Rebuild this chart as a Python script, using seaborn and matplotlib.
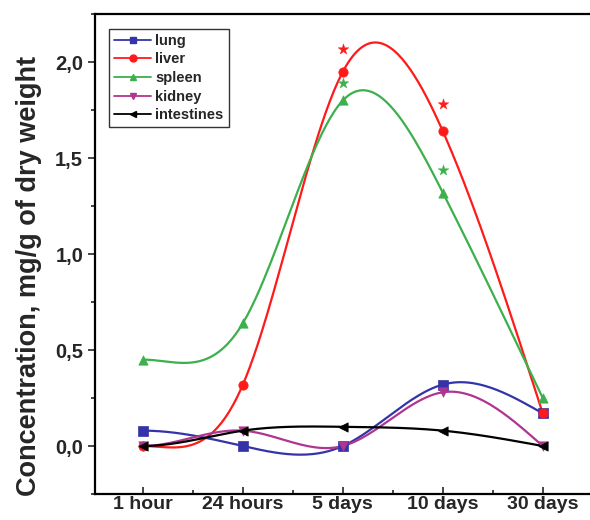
import numpy as np
import pandas as pd
import seaborn as sns
import matplotlib.pyplot as plt
from matplotlib.lines import Line2D
from matplotlib.ticker import MultipleLocator

sns.set_theme(style="ticks")
plt.rcParams['font.family'] = ['Liberation Sans', 'DejaVu Sans']

# Daten
zeit = ["1 hour", "24 hours", "5 days", "10 days", "30 days"]
organe = ["lung", "liver", "spleen", "kidney", "intestines"]
lung = [0.08, 0.00, 0.00, 0.32, 0.17]
liver = [0.00, 0.32, 1.95, 1.64, 0.17]
spleen = [0.45, 0.64, 1.80, 1.32, 0.25]
kidney = [0.00, 0.08, 0.00, 0.28, 0.00]
intestines = [0.00, 0.08, 0.10, 0.08, 0.00]
# Signifikanz-Sterne (5 days, 10 days)
stern_pos = [2, 3]
stern_liver = [2.07, 1.78]
stern_spleen = [1.89, 1.44]

farben = {"lung": "#3434a8", "liver": "#ff1a1a", "spleen": "#3cb04c",
          "kidney": "#b03590", "intestines": "#000000"}
marker = {"lung": "s", "liver": "o", "spleen": "^", "kidney": "v", "intestines": "<"}
werte = {"lung": lung, "liver": liver, "spleen": spleen, "kidney": kidney, "intestines": intestines}


def spline(y, n=200):
    # kubischer Spline auf x = 0..len-1, links Steigung 0, rechts natuerlich
    y = np.asarray(y, float)
    m = len(y)
    A = np.zeros((m, m)); b = np.zeros(m)
    A[0, 0] = 2; A[0, 1] = 1; b[0] = 6 * (y[1] - y[0])
    A[-1, -1] = 1
    for i in range(1, m - 1):
        A[i, i - 1] = 1; A[i, i] = 4; A[i, i + 1] = 1
        b[i] = 6 * (y[i + 1] - 2 * y[i] + y[i - 1])
    M = np.linalg.solve(A, b)
    xs = np.linspace(0, m - 1, n)
    k = np.clip(np.floor(xs).astype(int), 0, m - 2)
    t = xs - k
    ys = (M[k] * (1 - t) ** 3 / 6 + M[k + 1] * t ** 3 / 6
          + (y[k] - M[k] / 6) * (1 - t) + (y[k + 1] - M[k + 1] / 6) * t)
    return xs, ys


kurven = []
punkte = []
for o in organe:
    xs, ys = spline(werte[o])
    kurven.append(pd.DataFrame({"x": xs, "y": ys, "organ": o}))
    punkte.append(pd.DataFrame({"x": range(len(zeit)), "y": werte[o], "organ": o}))
df_k = pd.concat(kurven)
df_p = pd.concat(punkte)

fig = plt.figure(figsize=(5.9, 5.2), dpi=100)
ax = fig.add_axes([0.161, 0.05, 0.847, 0.923])

sns.lineplot(data=df_k, x="x", y="y", hue="organ", palette=farben, lw=1.6,
             legend=False, ax=ax, sort=False, estimator=None, units="organ")
for o in organe:
    d = df_p[df_p.organ == o]
    sns.scatterplot(data=d, x="x", y="y", color=farben[o], marker=marker[o],
                    s=45, edgecolor=farben[o], linewidth=0.5, legend=False, ax=ax, zorder=5)
sns.scatterplot(x=stern_pos, y=stern_liver, color=farben["liver"], marker="*", s=65,
                edgecolor=farben["liver"], linewidth=0.3, ax=ax, zorder=5)
sns.scatterplot(x=stern_pos, y=stern_spleen, color=farben["spleen"], marker="*", s=65,
                edgecolor=farben["spleen"], linewidth=0.3, ax=ax, zorder=5)

ax.set_xlim(-0.48, 4.52)
ax.set_ylim(-0.25, 2.25)
ax.set_xticks(range(len(zeit)))
ax.set_xticklabels(zeit, fontsize=14, fontweight="bold")
ax.xaxis.set_minor_locator(MultipleLocator(0.5))
ax.yaxis.set_minor_locator(MultipleLocator(0.25))
ax.set_yticks([0.0, 0.5, 1.0, 1.5, 2.0])
ax.set_yticklabels(["0,0", "0,5", "1,0", "1,5", "2,0"], fontsize=14.5, fontweight="bold")
ax.tick_params(axis="x", which="both", direction="in", length=5, width=1.2, pad=1.5)
ax.tick_params(axis="x", which="minor", length=3)
ax.tick_params(axis="y", which="both", direction="out", length=5, width=1.2)
ax.tick_params(axis="y", which="minor", length=3)
ax.set_xlabel("")
ax.set_ylabel("Concentration, mg/g of dry weight", fontsize=19.5, fontweight="bold")
ax.yaxis.set_label_coords(-0.106, 0.454)
for s in ax.spines.values():
    s.set_linewidth(1.6)
    s.set_color("black")

handles = [Line2D([0], [0], color=farben[o], marker=marker[o], markersize=5, lw=1.3) for o in organe]
leg = ax.legend(handles, organe, loc="upper left", bbox_to_anchor=(0.014, 0.985),
                frameon=True, fancybox=False, edgecolor="black", handlelength=2.5,
                handletextpad=0.3, labelspacing=0.32, borderpad=0.35,
                prop={"weight": "bold", "size": 10.5})
leg.get_frame().set_linewidth(1.0)

plt.savefig("out.png", dpi=100)
